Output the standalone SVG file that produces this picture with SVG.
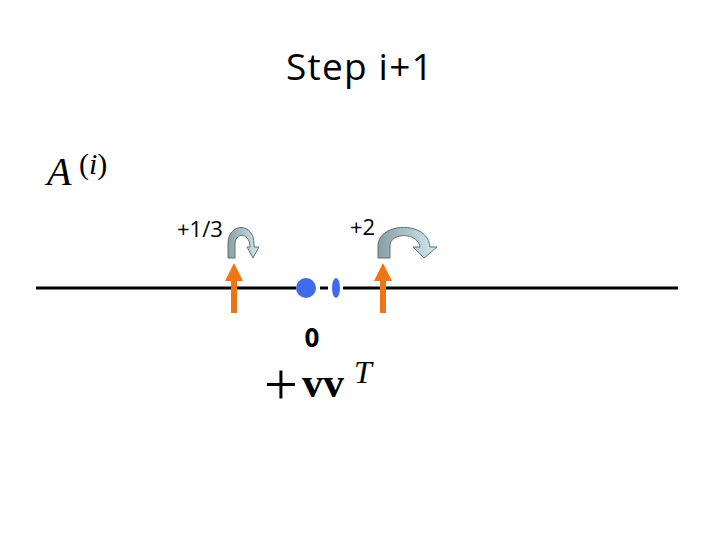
<svg xmlns="http://www.w3.org/2000/svg" width="720" height="540" viewBox="0 0 720 540">
<style>
.sans{font-family:"Open Sans","Noto Sans",sans-serif;fill:#000}
.serif{font-family:"Liberation Serif","DejaVu Serif",serif;fill:#000}
.orange{fill:#EE7418}
.curl{fill:url(#g);stroke:#5E7074;stroke-width:1}
</style>
<defs>
<linearGradient id="g" x1="0" y1="0" x2="1" y2="0">
<stop offset="0" stop-color="#8A9EA2"/>
<stop offset="1" stop-color="#CFEAF0"/>
</linearGradient>
</defs>
<rect width="720" height="540" fill="#fff"/>
<g id="title"><text class="sans" x="360" y="80" font-size="37" letter-spacing="1.2" text-anchor="middle">Step i+1</text></g>
<g id="matrixA"><text class="serif" x="47" y="185" font-size="40" font-style="italic">A</text><text class="serif" x="79" y="174" font-size="30">(<tspan font-style="italic">i</tspan>)</text></g>
<g id="connectors">
<line x1="36" y1="288" x2="296" y2="288" stroke="#000" stroke-width="3"/>
<line x1="320" y1="288" x2="328" y2="288" stroke="#000" stroke-width="3"/>
<line x1="343" y1="288" x2="678" y2="288" stroke="#000" stroke-width="3"/>
</g>
<g id="dot"><circle cx="306" cy="288" r="10" fill="#3F6BEB"/></g>
<g id="ellipse"><ellipse cx="336" cy="288" rx="4" ry="10" fill="#3F6BEB"/></g>
<g id="arrowLeft"><polygon class="orange" points="234,263 225,281 231,281 231,313 237,313 237,281 243,281"/></g>
<g id="arrowRight"><polygon class="orange" points="383,263 374,281 380,281 380,313 386,313 386,281 392,281"/></g>
<g id="curlLeft"><path class="curl" d="M228,258 L228,244 C228,222 254,222 254,244 L254,247 L259,247 L253,258 L247,247 L250,247 C250,232 235,232 235,244 L235,258 Z"/></g>
<g id="curlRight"><path class="curl" d="M378,258 L378,246 C378,222 428,220 430,247 L437,247 L424,258 L413,247 L420,247 C418,232 390,232 390,246 L390,258 Z"/></g>
<g id="label13"><text class="sans" x="177" y="237" font-size="22">+1/3</text></g>
<g id="label2"><text class="sans" x="350" y="235" font-size="22">+2</text></g>
<g id="zero"><text class="sans" x="312" y="347" font-size="26" font-weight="bold" text-anchor="middle">0</text></g>
<g id="vvT"><text class="serif" x="264" y="404" font-size="60">+</text><text class="serif" x="302" y="397" font-size="42" font-weight="bold">vv</text><text class="serif" x="354" y="383" font-size="32" font-style="italic">T</text></g>
</svg>
